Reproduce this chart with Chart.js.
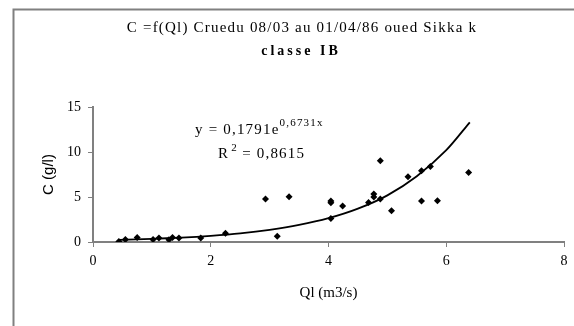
<!DOCTYPE html>
<html>
<head>
<meta charset="utf-8">
<script src="https://cdn.jsdelivr.net/npm/chart.js@4/dist/chart.umd.min.js"></script>
<style>
html,body{margin:0;padding:0;background:#fff;}
#wrap{width:574px;height:326px;position:relative;}
</style>
</head>
<body>
<div id="wrap"><canvas id="c" width="574" height="326"></canvas></div>
<script>
// Observed points: discharge Ql (m3/s) and concentration C (g/l)
const qlValues = [0.44,0.55,0.75,1.02,1.12,1.29,1.35,1.46,1.83,2.25,2.93,3.13,3.33,4.04,4.04,4.04,4.24,4.68,4.77,4.77,4.88,4.88,5.07,5.35,5.58,5.73,5.58,5.85,6.38];
const cValues  = [0.05,0.27,0.49,0.27,0.45,0.25,0.49,0.45,0.45,0.97,4.77,0.64,5.03,4.55,4.35,2.61,3.99,4.40,5.33,5.00,4.77,9.02,3.46,7.26,7.93,8.38,4.55,4.58,7.71];
// Trend curve
const trendX = [0.45,1.0,1.5,2.0,2.5,3.0,3.5,4.0,4.5,5.0,5.5,6.0,6.4];
const trendY = [0.24,0.35,0.49,0.69,0.96,1.35,1.89,2.64,3.70,5.18,7.30,10.20,13.30];
// Axis ticks
const xTicks = [0,2,4,6,8];
const yTicks = [0,5,10,15];
// Texts
const titleText = "C =f(Ql) Cruedu 08/03 au 01/04/86 oued Sikka k";
const subtitleText = "classe IB";
const xTitle = "Ql (m3/s)";
const yTitle = "C (g/l)";
const eqMain = "y = 0,1791e";
const eqExp = "0,6731x";
const r2Label = "R";
const r2Rest = " = 0,8615";

const serif = "'Liberation Serif', 'Times New Roman', serif";
const sans = "'Liberation Sans', Arial, sans-serif";

const points = qlValues.map((x,i)=>({x:x,y:cValues[i]}));
const trend = trendX.map((x,i)=>({x:x,y:trendY[i]}));

const decor = {
  id:'decor',
  beforeDraw(chart){
    const ctx = chart.ctx;
    ctx.save();
    ctx.strokeStyle = '#808080';
    ctx.lineWidth = 2;
    ctx.strokeRect(13.5, 9.5, 800, 600);
    ctx.restore();
  },
  afterDraw(chart){
    const ctx = chart.ctx;
    ctx.save();
    ctx.fillStyle = '#000';
    ctx.textBaseline = 'alphabetic';
    ctx.textAlign = 'center';
    ctx.font = "15px " + serif;
    ctx.letterSpacing = '1.2px';
    ctx.fillText(titleText, 302, 32);
    ctx.font = "bold 14px " + serif;
    ctx.letterSpacing = '3px';
    ctx.fillText(subtitleText, 301, 55);
    ctx.textAlign = 'left';
    ctx.letterSpacing = '1.2px';
    ctx.font = "15px " + serif;
    ctx.fillText(eqMain, 195, 134);
    let w = ctx.measureText(eqMain).width;
    ctx.font = "11px " + serif;
    ctx.fillText(eqExp, 195 + w, 126);
    ctx.font = "15px " + serif;
    ctx.fillText(r2Label, 218, 158);
    let w2 = ctx.measureText(r2Label).width;
    ctx.font = "11px " + serif;
    ctx.fillText("2", 218 + w2 + 2, 151);
    ctx.font = "15px " + serif;
    ctx.fillText(r2Rest, 218 + w2 + 8, 158);
    ctx.restore();
  }
};

new Chart(document.getElementById('c'), {
  type:'scatter',
  data:{
    datasets:[
      {
        label:'Trend',
        data:trend,
        showLine:true,
        borderColor:'#000',
        borderWidth:1.8,
        pointRadius:0,
        tension:0.3,
        fill:false
      },
      {
        label:'C',
        data:points,
        pointStyle:'rectRot',
        pointRadius:3.5,
        backgroundColor:'#000',
        borderColor:'#000',
        borderWidth:0,
        showLine:false
      }
    ]
  },
  options:{
    responsive:false,
    animation:false,
    devicePixelRatio:1,
    layout:{padding:{left:0,right:10,top:107,bottom:0}},
    plugins:{legend:{display:false},tooltip:{enabled:false},title:{display:false}},
    scales:{
      x:{
        type:'linear', min:0, max:8,
        afterFit(s){ s.height = 84; },
        afterBuildTicks(s){ s.ticks = xTicks.map(v=>({value:v})); },
        grid:{drawOnChartArea:false, drawTicks:true, tickLength:5, color:'#808080'},
        border:{color:'#808080', width:2},
        ticks:{color:'#000', font:{family:serif, size:14}, padding:6},
        title:{display:true, text:xTitle, color:'#000', font:{family:serif, size:15}, padding:{top:0,bottom:24}}
      },
      y:{
        type:'linear', min:0, max:15,
        afterFit(s){ s.width = 93; },
        afterBuildTicks(s){ s.ticks = yTicks.map(v=>({value:v})); },
        grid:{drawOnChartArea:false, drawTicks:true, tickLength:5, color:'#808080'},
        border:{color:'#808080', width:2},
        ticks:{color:'#000', font:{family:serif, size:14}, padding:7},
        title:{display:true, text:yTitle, color:'#000', font:{family:sans, size:15}, padding:{top:40,bottom:0}}
      }
    }
  },
  plugins:[decor]
});
</script>
</body>
</html>
